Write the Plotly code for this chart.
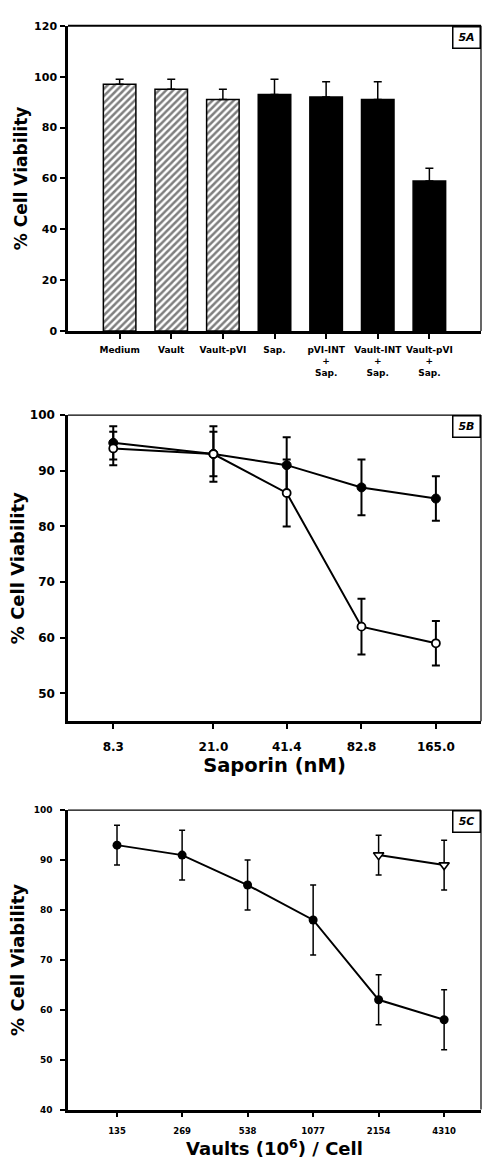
import plotly.graph_objects as go

# ---------------- data ----------------
# Panel 5A
a_categories = ["Medium", "Vault", "Vault-pVI", "Sap.", "pVI-INT<br>+<br>Sap.",
                "Vault-INT<br>+<br>Sap.", "Vault-pVI<br>+<br>Sap."]
a_values = [97, 95, 91, 93, 92, 91, 59]
a_errors = [2, 4, 4, 6, 6, 7, 5]
a_hatched = [True, True, True, False, False, False, False]

# Panel 5B
b_saporin = [8.3, 21.0, 41.4, 82.8, 165.0]
b_ticktext = ["8.3", "21.0", "41.4", "82.8", "165.0"]
b_filled = [95, 93, 91, 87, 85]
b_filled_err = [3, 5, 5, 5, 4]
b_open = [94, 93, 86, 62, 59]
b_open_err = [3, 4, 6, 5, 4]

# Panel 5C
c_vaults = [135, 269, 538, 1077, 2154, 4310]
c_ticktext = ["135", "269", "538", "1077", "2154", "4310"]
c_filled = [93, 91, 85, 78, 62, 58]
c_filled_err = [4, 5, 5, 7, 5, 6]
c_tri_x = [2154, 4310]
c_tri = [91, 89]
c_tri_err = [4, 5]

# ---------------- figure ----------------
FONT = "DejaVu Sans, Liberation Sans, Arial, sans-serif"
W, H = 482, 1163
fig = go.Figure()

# --- 5A bars ---
hatch_idx = [i for i, h in enumerate(a_hatched) if h]
solid_idx = [i for i, h in enumerate(a_hatched) if not h]
fig.add_trace(go.Bar(
    x=[a_categories[i] for i in hatch_idx], y=[a_values[i] for i in hatch_idx],
    error_y=dict(type="data", array=[a_errors[i] for i in hatch_idx],
                 arrayminus=[0] * len(hatch_idx), symmetric=False,
                 color="black", thickness=1.5, width=4),
    marker=dict(color="white", line=dict(color="black", width=1.5),
                pattern=dict(shape="/", fgcolor="black", bgcolor="white",
                             size=5, solidity=0.5)),
    width=0.63, xaxis="x", yaxis="y", showlegend=False))
fig.add_trace(go.Bar(
    x=[a_categories[i] for i in solid_idx], y=[a_values[i] for i in solid_idx],
    error_y=dict(type="data", array=[a_errors[i] for i in solid_idx],
                 arrayminus=[0] * len(solid_idx), symmetric=False,
                 color="black", thickness=1.5, width=4),
    marker=dict(color="black", line=dict(color="black", width=1.5)),
    width=0.63, xaxis="x", yaxis="y", showlegend=False))

# --- 5B lines ---
fig.add_trace(go.Scatter(
    x=b_saporin, y=b_filled, mode="lines+markers",
    line=dict(color="black", width=2),
    marker=dict(symbol="circle", size=9, color="black", line=dict(color="black", width=1)),
    error_y=dict(type="data", array=b_filled_err, color="black", thickness=2, width=4),
    xaxis="x2", yaxis="y2", showlegend=False))
fig.add_trace(go.Scatter(
    x=b_saporin, y=b_open, mode="lines+markers",
    line=dict(color="black", width=2),
    marker=dict(symbol="circle", size=8, color="white", line=dict(color="black", width=1.8)),
    error_y=dict(type="data", array=b_open_err, color="black", thickness=2, width=4),
    xaxis="x2", yaxis="y2", showlegend=False))

# --- 5C lines ---
fig.add_trace(go.Scatter(
    x=c_vaults, y=c_filled, mode="lines+markers",
    line=dict(color="black", width=2),
    marker=dict(symbol="circle", size=9, color="black"),
    error_y=dict(type="data", array=c_filled_err, color="black", thickness=1.5, width=3),
    xaxis="x3", yaxis="y3", showlegend=False))
fig.add_trace(go.Scatter(
    x=c_tri_x, y=c_tri, mode="lines+markers",
    line=dict(color="black", width=2),
    marker=dict(symbol="triangle-down", size=9, color="white", line=dict(color="black", width=1.6)),
    error_y=dict(type="data", array=c_tri_err, color="black", thickness=1.5, width=3),
    xaxis="x3", yaxis="y3", showlegend=False))

xdom = [68 / W, 481 / W]
def ydom(top, bottom):
    return [1 - bottom / H, 1 - top / H]

axis_common = dict(showgrid=False, zeroline=False, showline=True, linecolor="black",
                   linewidth=2.5, ticks="outside", tickcolor="black", ticklen=5,
                   tickwidth=1.5)

fig.update_layout(
    width=W, height=H, margin=dict(l=0, r=0, t=0, b=0),
    paper_bgcolor="white", plot_bgcolor="white",
    font=dict(family=FONT, color="black", weight="bold"),
    bargap=0.37,
    xaxis=dict(domain=xdom, anchor="y", range=[-1, 7], type="category", tickangle=0,
               tickfont=dict(size=9, weight="bold"), ticklabelstandoff=3,
               **axis_common),
    yaxis=dict(domain=ydom(19, 328), anchor="x", range=[0, 120], tickvals=[0, 20, 40, 60, 80, 100, 120],
               tickfont=dict(size=11, weight="bold"), ticklabelstandoff=1,
               title=dict(text="% Cell Viability", font=dict(size=17, weight="bold"), standoff=3),
               **axis_common),
    xaxis2=dict(domain=xdom, anchor="y2", type="log", range=[0.737, 2.399],
                tickvals=b_saporin, ticktext=b_ticktext,
                tickfont=dict(size=12, weight="bold"), ticklabelstandoff=8,
                title=dict(text="Saporin (nM)", font=dict(size=19.5, weight="bold"), standoff=2),
                **axis_common),
    yaxis2=dict(domain=ydom(413, 723), anchor="x2", range=[45, 100], tickvals=[50, 60, 70, 80, 90, 100],
                tickfont=dict(size=12, weight="bold"), ticklabelstandoff=3,
                title=dict(text="% Cell Viability", font=dict(size=18, weight="bold"), standoff=1),
                **axis_common),
    xaxis3=dict(domain=xdom, anchor="y3", type="log", range=[1.905, 3.804],
                tickvals=c_vaults, ticktext=c_ticktext,
                tickfont=dict(size=8.5, weight="bold"), ticklabelstandoff=6,
                title=dict(text="Vaults (10<sup>6</sup>) / Cell", font=dict(size=18, weight="bold"), standoff=2),
                **axis_common),
    yaxis3=dict(domain=ydom(813, 1116), anchor="x3", range=[40, 100], tickvals=[40, 50, 60, 70, 80, 90, 100],
                tickfont=dict(size=9, weight="bold"), ticklabelstandoff=6,
                title=dict(text="% Cell Viability", font=dict(size=18, weight="bold"), standoff=5),
                **axis_common),
)

# top / right frame lines
shapes = []
for xr, yr, topw in [("x", "y", 2.2), ("x2", "y2", 1.2), ("x3", "y3", 1.2)]:
    shapes.append(dict(type="line", xref=f"{xr} domain", yref=f"{yr} domain",
                       x0=0, x1=1, y0=1, y1=1, line=dict(color="black", width=topw)))
    shapes.append(dict(type="line", xref=f"{xr} domain", yref=f"{yr} domain",
                       x0=1, x1=1, y0=0, y1=1, line=dict(color="black", width=1.2)))
fig.update_layout(shapes=shapes)

# panel labels
for label, xr, yr in [("5A", "x", "y"), ("5B", "x2", "y2"), ("5C", "x3", "y3")]:
    fig.add_annotation(text=f"<i>{label}</i>", xref=f"{xr} domain", yref=f"{yr} domain",
                       x=1, y=1, xanchor="right", yanchor="top", showarrow=False,
                       font=dict(size=11, weight="bold"), width=24, height=18,
                       bordercolor="black", borderwidth=1.5, borderpad=1, bgcolor="white")

fig.write_html("out.html")
